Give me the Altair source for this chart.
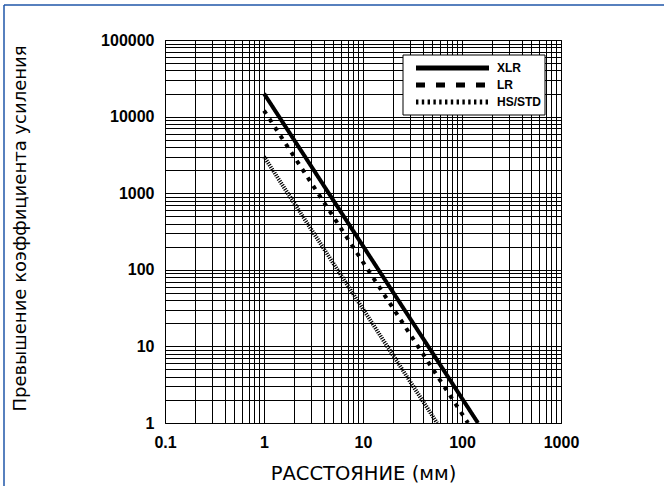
import altair as alt
import pandas as pd

# Series (log-log straight lines: start and end points)
series_names = ["XLR", "LR", "HS/STD"]
xlr_x = [1, 145]
xlr_y = [20000, 1]
lr_x = [1, 115]
lr_y = [12000, 1]
hs_x = [1, 56]
hs_y = [3000, 1]

x_ticks = [m * 10 ** e for e in range(-1, 3) for m in range(1, 10)] + [1000]
y_ticks = [m * 10 ** e for e in range(0, 5) for m in range(1, 10)] + [100000]

rows = []
for name, xs, ys in zip(series_names, [xlr_x, lr_x, hs_x], [xlr_y, lr_y, hs_y]):
    for xv, yv in zip(xs, ys):
        rows.append({"series": name, "x": xv, "y": yv})
df = pd.DataFrame(rows)
legend_df = pd.DataFrame({"series": series_names})

LABEL_FONT = "Liberation Sans"
TITLE_FONT = "DejaVu Sans"
decade_expr = "abs(log(datum.value)/LN10 - round(log(datum.value)/LN10)) < 0.001 ? '' + datum.value : ''"

lines = alt.Chart(df).mark_line(color="black", clip=True).encode(
    x=alt.X(
        "x:Q",
        scale=alt.Scale(type="log", domain=[0.1, 1000], nice=False),
        axis=alt.Axis(
            values=x_ticks, labelExpr=decade_expr, grid=True, gridColor="black",
            gridWidth=1, gridOpacity=1, ticks=False, tickSize=0, domain=False,
            labelFont=LABEL_FONT, labelFontWeight="bold", labelFontSize=16,
            labelPadding=11, labelOverlap=False, labelBound=False, labelFlush=False,
            labelColor="black",
            title="РАССТОЯНИЕ (мм)", titleFont=TITLE_FONT, titleFontWeight="normal",
            titleFontSize=19.5, titleColor="black", titleY=50, titleBaseline="middle",
        ),
    ),
    y=alt.Y(
        "y:Q",
        scale=alt.Scale(type="log", domain=[1, 100000], nice=False),
        axis=alt.Axis(
            values=y_ticks, labelExpr=decade_expr, grid=True, gridColor="black",
            gridWidth=1, gridOpacity=1, ticks=False, tickSize=0, domain=False,
            labelFont=LABEL_FONT, labelFontWeight="bold", labelFontSize=16,
            labelPadding=11, labelOverlap=False, labelBound=False, labelFlush=False,
            labelColor="black",
            title="Превышение коэффициента усиления", titleFont=TITLE_FONT,
            titleFontWeight="normal", titleFontSize=18, titleColor="black",
            titleX=-145, titleY=188, titleBaseline="middle", titleAlign="center",
            titleAngle=-90,
        ),
    ),
    strokeDash=alt.StrokeDash(
        "series:N",
        scale=alt.Scale(domain=series_names, range=[[1, 0], [4, 6], [1.2, 1.2]]),
        legend=None,
    ),
    strokeWidth=alt.StrokeWidth(
        "series:N",
        scale=alt.Scale(domain=series_names, range=[4, 4, 4]),
        legend=None,
    ),
)

# Hand-drawn legend box (top-right, inside the plot)
legend_box = alt.Chart(pd.DataFrame({"k": [0]})).mark_rect(
    fill="white", stroke="black", strokeWidth=1
).encode(x=alt.value(238), x2=alt.value(380), y=alt.value(15), y2=alt.value(75))

legend_y = alt.Y(
    "series:N",
    scale=alt.Scale(type="point", domain=series_names, range=[28, 62], padding=0),
    axis=None,
)
legend_lines = alt.Chart(legend_df).mark_rule(color="black", strokeWidth=5).encode(
    y=legend_y,
    x=alt.value(251),
    x2=alt.value(324),
    strokeDash=alt.StrokeDash(
        "series:N",
        scale=alt.Scale(domain=series_names, range=[[1, 0], [9, 11], [2.4, 3.4]]),
        legend=None,
    ),
)
legend_text = alt.Chart(legend_df).mark_text(
    align="left", baseline="middle", font=LABEL_FONT, fontWeight="bold",
    fontSize=12, color="black"
).encode(y=legend_y, x=alt.value(332), text="series:N")

frame_df = pd.DataFrame({"k": [0]})
top_border = alt.Chart(frame_df).mark_rule(color="#1f56a8", strokeWidth=1.5).encode(
    x=alt.value(-161), x2=alt.value(499), y=alt.value(-35)
)
left_border = alt.Chart(frame_df).mark_rule(color="#1f56a8", strokeWidth=1.5).encode(
    x=alt.value(-161), y=alt.value(-35), y2=alt.value(446)
)

chart = alt.layer(
    lines, legend_box, legend_lines, legend_text, top_border, left_border
).resolve_scale(
    y="independent", strokeDash="independent"
).properties(
    width=396,
    height=383,
    autosize=alt.AutoSizeParams(type="none"),
    padding={"left": 165, "top": 40, "right": 103, "bottom": 63},
    background="white",
).configure_view(stroke="black", strokeWidth=1)

chart.save("out.html", embed_options={"renderer": "svg", "actions": False})
